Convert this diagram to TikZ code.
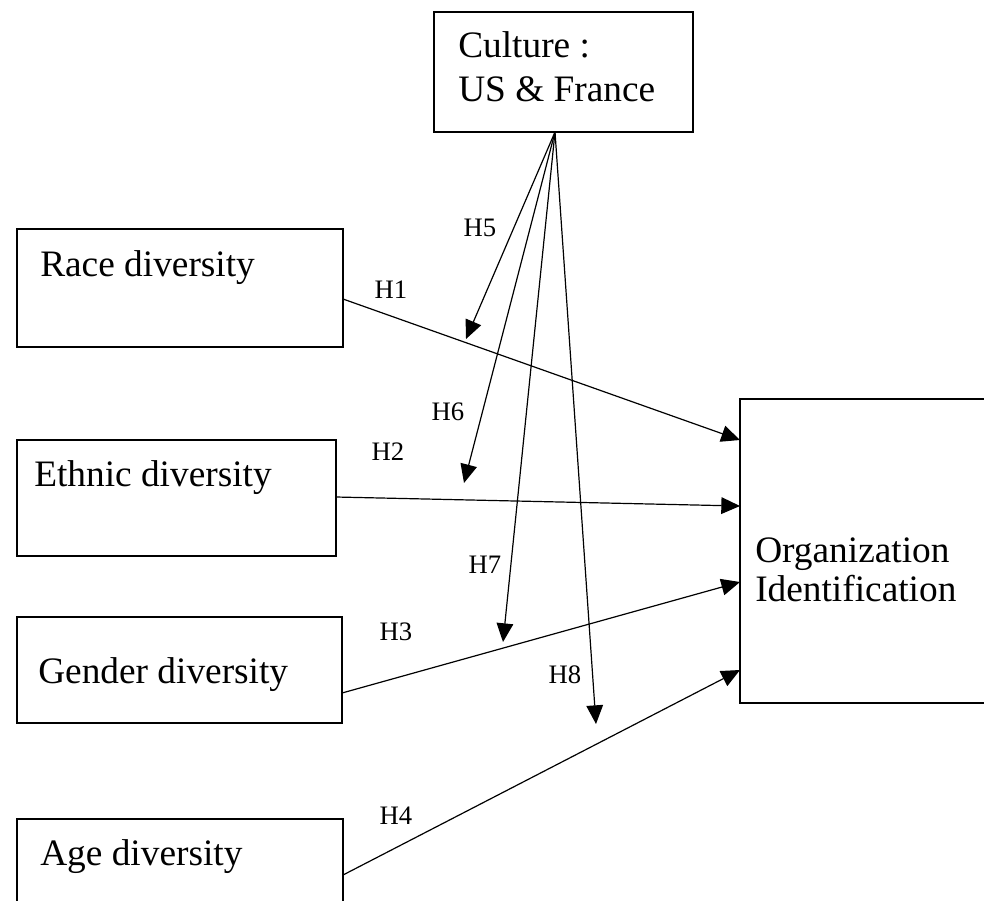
\documentclass[tikz,border=0pt]{standalone}
\usepackage{fontspec}
\setmainfont{Liberation Serif}
\usetikzlibrary{arrows.meta}

\tikzset{
  box/.style={draw, line width=1pt, rectangle, inner sep=0pt, outer sep=0pt},
  txt/.style={font=\fontsize{28}{32}\selectfont, inner sep=0pt},
  hyp/.style={font=\fontsize{20}{24}\selectfont, inner sep=0pt},
  link/.style={line width=0.9pt, -{Triangle[length=14pt,width=12.5pt]}}
}

\begin{document}
\begin{tikzpicture}[x=0.75pt,y=-0.75pt]
\useasboundingbox (0,0) rectangle (984,900);
\clip (0,0) rectangle (984,900);

% boxes
\node[box, minimum width=194.25pt, minimum height=90pt] (culture) at (563.5,72) {};
\node[box, minimum width=244.5pt, minimum height=88.5pt] (race) at (180,288) {};
\node[box, minimum width=239.25pt, minimum height=87pt] (ethnic) at (176.5,498) {};
\node[box, minimum width=243.75pt, minimum height=79.5pt] (gender) at (179.5,670) {};
\node[box, minimum width=244.5pt, minimum height=90pt] (age) at (180,879) {};
\node[box, minimum width=225pt, minimum height=228pt] (org) at (890,551) {};

% texts
\node[txt, anchor=west, align=left, font=\fontsize{28}{33}\selectfont] (culturetxt) at (458,67) {Culture :\\US \& France};
\node[txt, anchor=west] (racetxt) at (40,268) {Race diversity};
\node[txt, anchor=west] (ethnictxt) at (34,478) {Ethnic diversity};
\node[txt, anchor=west] (gendertxt) at (38,675) {Gender diversity};
\node[txt, anchor=west] (agetxt) at (40,857) {Age diversity};
\node[txt, anchor=west, align=left, font=\fontsize{28}{29.5}\selectfont] (orgtxt) at (755,570) {Organization\\Identification};

% main effects
\draw[link] (race.north east) ++(0,70) -- ([yshift=-41*0.75pt]org.north west);
\draw[link] (ethnic.north east) ++(0,57) -- ([yshift=-107*0.75pt]org.north west);
\draw[link] (gender.north east) ++(0,76) -- ([yshift=-183*0.75pt]org.north west);
\draw[link] (age.north east) ++(0,56) -- ([yshift=-271*0.75pt]org.north west);

% moderation
\coordinate (mod) at (555,132);
\coordinate (h5end) at (466,339);
\coordinate (h6end) at (464,483);
\coordinate (h7end) at (503,642);
\coordinate (h8end) at (596,724);
\foreach \e in {h5end,h6end,h7end,h8end}
  \draw[link] (mod) -- (\e);

% labels
\node[hyp] (h1) at (391,290) {H1};
\node[hyp] (h2) at (388,452) {H2};
\node[hyp] (h3) at (396,632) {H3};
\node[hyp] (h4) at (396,816) {H4};
\node[hyp] (h5) at (480,228) {H5};
\node[hyp] (h6) at (448,412) {H6};
\node[hyp] (h7) at (485,565) {H7};
\node[hyp] (h8) at (565,675) {H8};
\end{tikzpicture}
\end{document}
